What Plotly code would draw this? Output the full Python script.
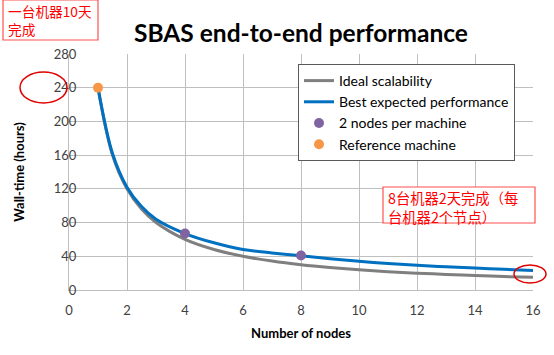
import plotly.graph_objects as go

nodes = [1, 1.5, 2, 2.5, 3, 4, 5, 6, 7, 8, 9, 10, 11, 12, 13, 14, 15, 16]
ideal = [240, 160, 120, 96, 80, 60, 48, 40, 34.3, 30, 26.7, 24, 21.8, 20, 18.5, 17.1, 16, 15]
best = [240, 162, 122, 99, 84, 67, 56, 48, 44, 40.5, 37, 34, 31.5, 29.5, 27.5, 26, 24.5, 23]
two_nodes_x = [4, 8]
two_nodes_y = [67, 41]
ref_x = [1]
ref_y = [240]
x_ticks = [0, 2, 4, 6, 8, 10, 12, 14, 16]
y_ticks = [0, 40, 80, 120, 160, 200, 240, 280]

FONT = "Lato, 'Open Sans', sans-serif"
CJK = "'Noto Sans CJK SC', sans-serif"

L, R, T, B = 69, 21, 54, 65
W, H = 554, 355
pw, ph = W - L - R, H - T - B

def px(x):
    return (x - L) / pw

def py(y):
    return (H - B - y) / ph

fig = go.Figure()
fig.add_trace(go.Scatter(x=nodes, y=ideal, mode="lines", name="Ideal scalability",
                         line=dict(color="#7f7f7f", width=3, shape="spline")))
fig.add_trace(go.Scatter(x=nodes, y=best, mode="lines", name="Best expected performance",
                         line=dict(color="#0070c0", width=3, shape="spline")))
fig.add_trace(go.Scatter(x=two_nodes_x, y=two_nodes_y, mode="markers", name="2 nodes per machine",
                         marker=dict(color="#8064a2", size=10)))
fig.add_trace(go.Scatter(x=ref_x, y=ref_y, mode="markers", name="Reference machine",
                         marker=dict(color="#f79646", size=10)))

shapes = [
    dict(type="circle", xref="paper", yref="paper", x0=px(20), x1=px(67), y0=py(103), y1=py(72),
         line=dict(color="#e00000", width=1.5)),
    dict(type="circle", xref="paper", yref="paper", x0=px(514), x1=px(546), y0=py(283), y1=py(265),
         line=dict(color="#e00000", width=1.5)),
    dict(type="rect", xref="paper", yref="paper", x0=px(3), x1=px(98), y0=py(40), y1=py(0),
         line=dict(color="#ff5050", width=1.2), fillcolor="white", layer="above"),
    dict(type="rect", xref="paper", yref="paper", x0=px(383), x1=px(535), y0=py(223), y1=py(187),
         line=dict(color="#ff5050", width=1.2), fillcolor="white", layer="above"),
]

def note(text, x, y, size):
    return dict(text=text, xref="paper", yref="paper", x=px(x), y=py(y),
                xanchor="left", yanchor="middle", showarrow=False, align="left",
                font=dict(family=CJK, size=size, color="#ff0000"))

annotations = [
    note("一台机器10天", 6, 11, 13.7),
    note("完成", 6, 29, 13.7),
    note("8台机器2天完成（每", 386, 197, 14.3),
    note("台机器2个节点）", 386, 216, 14.3),
]

fig.update_layout(
    width=W, height=H,
    margin=dict(l=L, r=R, t=T, b=B, autoexpand=False),
    paper_bgcolor="white", plot_bgcolor="white",
    font=dict(family=FONT, color="#404040"),
    title=dict(text="<b>SBAS end-to-end performance</b>", x=0.5, xref="paper", xanchor="center",
               y=1 - 33 / H, yanchor="middle", font=dict(family=FONT, size=24.5, color="black")),
    xaxis=dict(range=[0, 16], tickvals=x_ticks, showgrid=True, gridcolor="#bfbfbf", gridwidth=1,
               showline=True, linecolor="#bfbfbf", linewidth=1, zeroline=False, ticks="",
               automargin=False, tickfont=dict(size=13, color="#404040"), ticklabelstandoff=8,
               title=dict(text="<b>Number of nodes</b>", font=dict(size=13, color="black"), standoff=12)),
    yaxis=dict(range=[0, 280], tickvals=y_ticks, showgrid=True, gridcolor="#bfbfbf", gridwidth=1,
               showline=True, linecolor="#bfbfbf", linewidth=1, zeroline=False, ticks="",
               automargin=False, tickfont=dict(size=13, color="#404040"), ticklabelstandoff=-11,
               title=dict(text="<b>Wall-time (hours)</b>", font=dict(size=13, color="black"), standoff=26)),
    legend=dict(x=px(298), y=py(64), xanchor="left", yanchor="top", bgcolor="white",
                bordercolor="#595959", borderwidth=1, font=dict(size=14, color="black"),
                tracegroupgap=0, itemwidth=30),
    showlegend=True,
    shapes=shapes,
    annotations=annotations,
)

fig.write_html("out.html", config={"displayModeBar": False},
               post_script="document.body.style.margin='0';document.body.style.padding='0';")
